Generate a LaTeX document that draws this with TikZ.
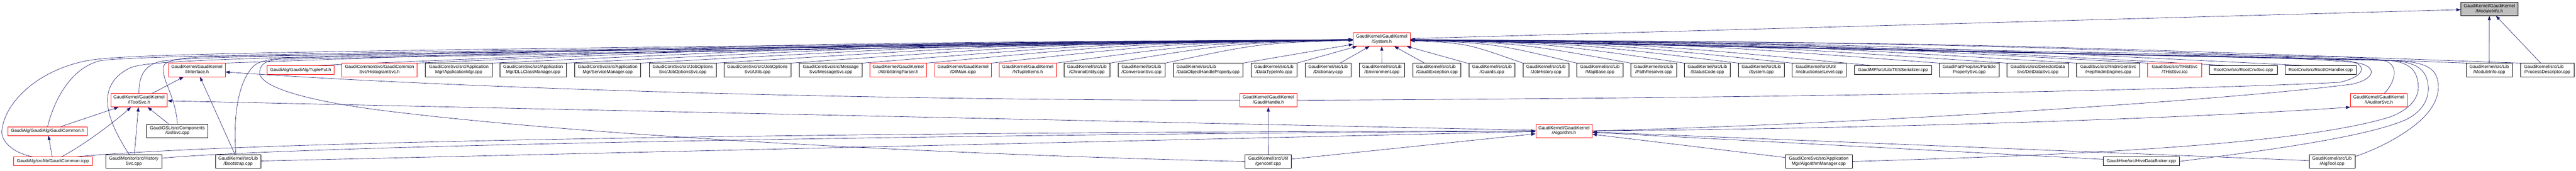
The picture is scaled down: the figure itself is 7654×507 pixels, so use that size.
\documentclass[tikz,border=0pt]{standalone}
\usepackage{fontspec}
\setmainfont{Liberation Sans}
\usetikzlibrary{arrows.meta,calc}
\definecolor{edgeblue}{HTML}{191970}
\definecolor{rootgray}{HTML}{BFBFBF}
\pgfdeclarelayer{bg}
\pgfsetlayers{bg,main}
\newcommand\gvfont{\fontsize{13.33}{15}\selectfont}
\newcommand\twol[2]{\begin{tabular}{@{}l@{}}#1\\\multicolumn{1}{@{}c@{}}{#2}\end{tabular}}
\begin{document}
\begin{tikzpicture}[x=1pt,y=-1pt,
  gbox/.style={draw=black,line width=1pt,fill=white,inner sep=0pt,font=\gvfont,minimum height=40pt,text=black},
  rbox/.style={gbox,draw=red},
  rootbox/.style={gbox,fill=rootgray},
  oneline/.style={minimum height=26pt},
  inc/.style={draw=edgeblue,line width=1pt,-{Triangle[length=13pt,width=9pt]}}]
\useasboundingbox (0,0) rectangle (7654,507);
% ---------- nodes ----------
\node[rootbox,minimum width=169pt] (modh) at (7396.5,26.5) {\twol{GaudiKernel/GaudiKernel}{/ModuleInfo.h}};
\node[rbox,minimum width=169pt] (sysh) at (4105.5,117) {\twol{GaudiKernel/GaudiKernel}{/System.h}};
% row 1
\node[rbox,minimum width=168pt] (iint) at (585,208) {\twol{GaudiKernel/GaudiKernel}{/IInterface.h}};
\node[rbox,oneline,minimum width=199pt] (tuple) at (893.5,208) {GaudiAlg/GaudiAlg/TuplePut.h};
\node[rbox,minimum width=223pt] (histo) at (1127.5,208) {\twol{GaudiCommonSvc/GaudiCommon}{Svc/HistogramSvc.h}};
\node[gbox,minimum width=198pt] (appmgr) at (1363,208) {\twol{GaudiCoreSvc/src/Application}{Mgr/ApplicationMgr.cpp}};
\node[gbox,minimum width=198pt] (dll) at (1584,208) {\twol{GaudiCoreSvc/src/Application}{Mgr/DLLClassManager.cpp}};
\node[gbox,minimum width=197pt] (svcmgr) at (1805.5,208) {\twol{GaudiCoreSvc/src/Application}{Mgr/ServiceManager.cpp}};
\node[gbox,minimum width=199pt] (jos) at (2028.5,208) {\twol{GaudiCoreSvc/src/JobOptions}{Svc/JobOptionsSvc.cpp}};
\node[gbox,minimum width=199pt] (utils) at (2250.5,208) {\twol{GaudiCoreSvc/src/JobOptions}{Svc/Utils.cpp}};
\node[gbox,minimum width=187pt] (msg) at (2468.5,208) {\twol{GaudiCoreSvc/src/Message}{Svc/MessageSvc.cpp}};
\node[rbox,minimum width=168pt] (attrib) at (2669,208) {\twol{GaudiKernel/GaudiKernel}{/AttribStringParser.h}};
\node[rbox,minimum width=169pt] (dllmain) at (2861.5,208) {\twol{GaudiKernel/GaudiKernel}{/DllMain.icpp}};
\node[rbox,minimum width=169pt] (ntuple) at (3053.5,208) {\twol{GaudiKernel/GaudiKernel}{/NTupleItems.h}};
\node[gbox,minimum width=137pt] (chrono) at (3229.5,208) {\twol{GaudiKernel/src/Lib}{/ChronoEntity.cpp}};
\node[gbox,minimum width=140pt] (conv) at (3392,208) {\twol{GaudiKernel/src/Lib}{/ConversionSvc.cpp}};
\node[gbox,minimum width=207pt] (dohp) at (3589.5,208) {\twol{GaudiKernel/src/Lib}{/DataObjectHandleProperty.cpp}};
\node[gbox,minimum width=136pt] (dti) at (3785,208) {\twol{GaudiKernel/src/Lib}{/DataTypeInfo.cpp}};
\node[gbox,minimum width=136pt] (dict) at (3946,208) {\twol{GaudiKernel/src/Lib}{/Dictionary.cpp}};
\node[gbox,minimum width=136pt] (env) at (4106,208) {\twol{GaudiKernel/src/Lib}{/Environment.cpp}};
\node[gbox,minimum width=143pt] (gexc) at (4269.5,208) {\twol{GaudiKernel/src/Lib}{/GaudiException.cpp}};
\node[gbox,minimum width=136pt] (guards) at (4433,208) {\twol{GaudiKernel/src/Lib}{/Guards.cpp}};
\node[gbox,minimum width=137pt] (jobh) at (4593.5,208) {\twol{GaudiKernel/src/Lib}{/JobHistory.cpp}};
\node[gbox,minimum width=137pt] (mapb) at (4753.5,208) {\twol{GaudiKernel/src/Lib}{/MapBase.cpp}};
\node[gbox,minimum width=136pt] (pathr) at (4913,208) {\twol{GaudiKernel/src/Lib}{/PathResolver.cpp}};
\node[gbox,minimum width=136pt] (stcode) at (5073,208) {\twol{GaudiKernel/src/Lib}{/StatusCode.cpp}};
\node[gbox,minimum width=137pt] (syscpp) at (5233.5,208) {\twol{GaudiKernel/src/Lib}{/System.cpp}};
\node[gbox,minimum width=161pt] (isl) at (5405.5,208) {\twol{GaudiKernel/src/Util}{/instructionsetLevel.cpp}};
\node[gbox,oneline,minimum width=229pt] (tes) at (5624.5,208) {GaudiMP/src/Lib/TESSerializer.cpp};
\node[gbox,minimum width=178pt] (ppsvc) at (5851,208) {\twol{GaudiPartProp/src/Particle}{PropertySvc.cpp}};
\node[gbox,minimum width=183pt] (detdata) at (6054.5,208) {\twol{GaudiSvc/src/DetectorData}{Svc/DetDataSvc.cpp}};
\node[gbox,minimum width=188pt] (heprndm) at (6264,208) {\twol{GaudiSvc/src/RndmGenSvc}{/HepRndmEngines.cpp}};
\node[rbox,minimum width=161pt] (thist) at (6461.5,208) {\twol{GaudiSvc/src/THistSvc}{/THistSvc.icc}};
\node[gbox,oneline,minimum width=201pt] (rootcnv) at (6665.5,208) {RootCnv/src/RootCnvSvc.cpp};
\node[gbox,oneline,minimum width=212pt] (rootio) at (6895,208) {RootCnv/src/RootIOHandler.cpp};
\node[gbox,minimum width=136pt] (modcpp) at (7396,208) {\twol{GaudiKernel/src/Lib}{/ModuleInfo.cpp}};
\node[gbox,minimum width=159pt] (procd) at (7568.5,208) {\twol{GaudiKernel/src/Lib}{/ProcessDescriptor.cpp}};
% row 2
\node[rbox,minimum width=168pt] (itool) at (413,298) {\twol{GaudiKernel/GaudiKernel}{/IToolSvc.h}};
\node[rbox,minimum width=169pt] (ghandle) at (3768.5,298) {\twol{GaudiKernel/GaudiKernel}{/GaudiHandle.h}};
\node[rbox,minimum width=168pt] (iaud) at (7068,298) {\twol{GaudiKernel/GaudiKernel}{/IAuditorSvc.h}};
% row 3
\node[rbox,oneline,minimum width=235pt] (gch) at (141.5,389.5) {GaudiAlg/GaudiAlg/GaudiCommon.h};
\node[gbox,minimum width=182pt] (gsl) at (527,389) {\twol{GaudiGSL/src/Components}{/GslSvc.cpp}};
\node[rbox,minimum width=168pt] (algh) at (4647,389) {\twol{GaudiKernel/GaudiKernel}{/Algorithm.h}};
% row 4
\node[rbox,oneline,minimum width=233pt] (gcicpp) at (157.5,479.5) {GaudiAlg/src/lib/GaudiCommon.icpp};
\node[gbox,minimum width=167pt] (hist) at (397.5,480) {\twol{GaudiMonitor/src/History}{Svc.cpp}};
\node[gbox,minimum width=135pt] (boot) at (707.5,480) {\twol{GaudiKernel/src/Lib}{/Bootstrap.cpp}};
\node[gbox,minimum width=138pt] (genconf) at (3768,480) {\twol{GaudiKernel/src/Util}{/genconf.cpp}};
\node[gbox,minimum width=198pt] (algmgr) at (5404,480) {\twol{GaudiCoreSvc/src/Application}{Mgr/AlgorithmManager.cpp}};
\node[gbox,oneline,minimum width=227pt] (hive) at (6362.5,479.5) {GaudiHive/src/HiveDataBroker.cpp};
\node[gbox,minimum width=136pt] (algtool) at (6929,480) {\twol{GaudiKernel/src/Lib}{/AlgTool.cpp}};
% ---------- edges ----------
\begin{pgfonlayer}{bg}
\fill[white] (0,0) rectangle (7654,507);
% into ModuleInfo.h
\draw[inc] (sysh) -- (modh);
\draw[inc] (modcpp) -- (modh);
\draw[inc] (procd) -- (modh);
% row 1, left of System.h
\draw[inc] (iint.north east) .. controls (2345,128.5) .. (sysh);
\draw[inc] ($(tuple.north east)+(-47,0)$) .. controls (2483,129.5) .. (sysh);
\draw[inc] (histo.north east) .. controls (2630,128.5) .. (sysh);
\draw[inc] (appmgr.north east) .. controls (2741.5,128.5) .. (sysh);
\draw[inc] (dll.north east) .. controls (2852,128.5) .. (sysh);
\draw[inc] (svcmgr.north east) .. controls (2962.5,128.5) .. (sysh);
\draw[inc] (jos.north east) .. controls (3074.5,128.5) .. (sysh);
\draw[inc] (utils.north east) .. controls (3185.5,128.5) .. (sysh);
\draw[inc] (msg.north east) .. controls (3291.5,128.5) .. (sysh);
\draw[inc] (attrib.north east) .. controls (3387,128.5) .. (sysh);
\draw[inc] (dllmain.north east) .. controls (3483.5,128.5) .. (sysh);
\draw[inc] (ntuple.north east) .. controls (3579.5,128.5) .. (sysh);
\draw[inc] (chrono.north east) .. controls (3659.5,128.5) .. (sysh);
\draw[inc] (conv.north east) .. controls (3741.5,128.5) .. (sysh);
\draw[inc] (dohp.north east) -- (sysh);
\draw[inc] (dti.north east) -- (sysh);
\draw[inc] (dict) -- (sysh);
\draw[inc] (env) -- (sysh);
\draw[inc] (gexc) -- (sysh);
\draw[inc] (guards) -- (sysh);
% row 1, right of System.h
\draw[inc] (jobh.north west) .. controls (4357.5,128.5) .. (sysh);
\draw[inc] (mapb.north west) .. controls (4437.5,128.5) .. (sysh);
\draw[inc] (pathr.north west) .. controls (4517.5,128.5) .. (sysh);
\draw[inc] (stcode.north west) .. controls (4597.5,128.5) .. (sysh);
\draw[inc] (syscpp.north west) .. controls (4677.5,128.5) .. (sysh);
\draw[inc] (isl.north west) .. controls (4757.5,128.5) .. (sysh);
\draw[inc] ($(tes.north west)+(49,0)$) .. controls (4874.5,129.5) .. (sysh);
\draw[inc] (ppsvc.north west) .. controls (4976,128.5) .. (sysh);
\draw[inc] (detdata.north west) .. controls (5076.5,128.5) .. (sysh);
\draw[inc] (heprndm.north west) .. controls (5180,128.5) .. (sysh);
\draw[inc] (thist.north west) .. controls (5285.5,128.5) .. (sysh);
\draw[inc] ($(rootcnv.north west)+(45,0)$) .. controls (5400,129.5) .. (sysh);
\draw[inc] ($(rootio.north west)+(50,0)$) .. controls (5514.5,129.5) .. (sysh);
\draw[inc] (modcpp.north west) .. controls (5759,128.5) .. (sysh);
\draw[inc] (procd.north west) .. controls (5839.5,128.5) .. (sysh);
% lower-left nodes to System.h
\draw[inc] ($(gcicpp.north west)+(57,0)$) .. controls (40,455) and (0,420) .. (6,385) .. controls (15,310) and (100,215) .. (250,182) .. controls (350,162) and (600,152) .. (sysh);
\draw[inc] (gch.north) .. controls (160,300) and (210,200) .. (300,180) .. controls (400,168) and (700,158) .. (sysh);
\draw[inc] ($(hist.north)+(-13.5,0)$) .. controls (320,360) and (280,260) .. (380,205) .. controls (430,178) and (550,165) .. (sysh);
\draw[inc] (itool.north) .. controls (412,225) and (430,192) .. (480,182) .. controls (550,170) and (700,162) .. (sysh);
\draw[inc] (gsl.north) .. controls (522,285) and (478,235) .. (486,197) .. controls (492,175) and (560,172) .. (620,168) -- (sysh);
\draw[inc] ($(boot.north)+(-6.5,0)$) .. controls (693,360) and (703,245) .. (755,195) .. controls (770,182) and (800,176) .. (850,172) -- (sysh);
\draw[inc] (genconf.west) .. controls (2900,462) and (1800,410) .. (1150,330) .. controls (900,299) and (760,255) .. (772,210) .. controls (775,190) and (790,180) .. (830,176) -- (sysh);
% lower-right nodes looping round to System.h
\draw[inc] (ghandle.east) .. controls (5000,293) and (6300,275) .. (6950,245) .. controls (7030,228) and (7035,190) .. (6980,182) .. controls (6900,172) and (6700,166) .. (6400,163) -- (sysh);
\draw[inc] (algh.east) .. controls (5500,370) and (6600,300) .. (6990,250) .. controls (7065,232) and (7060,195) .. (7000,186) .. controls (6900,176) and (6700,169) .. (6500,166) -- (sysh);
\draw[inc] ($(iaud.north west)+(101,0)$) .. controls (7120,240) and (7125,195) .. (7090,182) .. controls (7060,174) and (7000,170) .. (6900,168) -- (sysh);
\draw[inc] (algmgr.east) .. controls (6000,465) and (6800,440) .. (7100,348) .. controls (7160,326) and (7190,290) .. (7185,250) .. controls (7180,200) and (7150,182) .. (7080,178) -- (sysh);
\draw[inc] (hive.east) .. controls (6800,440) and (7050,400) .. (7150,355) .. controls (7200,330) and (7220,290) .. (7214,250) .. controls (7208,200) and (7170,182) .. (7090,179) -- (sysh);
\draw[inc] ($(algtool.east)+(0,-15)$) .. controls (7060,445) and (7150,400) .. (7200,350) .. controls (7240,310) and (7250,270) .. (7243,240) .. controls (7235,195) and (7190,182) .. (7100,180) -- (sysh);
% into IInterface.h
\draw[inc] (itool) -- (iint);
\draw[inc] (boot) -- (iint);
\draw[inc] (ghandle) .. controls (2600,298) and (1400,265) .. (iint);
% into IToolSvc.h
\draw[inc] (gch) -- (itool);
\draw[inc] (gcicpp) .. controls (250,430) and (330,370) .. (itool);
\draw[inc] (hist) -- (itool);
\draw[inc] (gsl) -- (itool);
\draw[inc] (algh) -- (itool);
% into GaudiCommon.h
\draw[inc] (gcicpp) -- (gch);
% into GaudiHandle.h
\draw[inc] (genconf) -- (ghandle);
% into Algorithm.h
\draw[inc] ($(gcicpp.north east)+(-48,0)$) .. controls (700,420) and (2500,392) .. (algh);
\draw[inc] ($(hist.east)+(0,-10)$) .. controls (900,432) and (2800,400) .. (algh);
\draw[inc] (boot) -- (algh);
\draw[inc] (genconf) -- (algh);
\draw[inc] (algtool) -- (algh);
\draw[inc] (hive) -- (algh);
\draw[inc] (algmgr) -- (algh);
% into IAuditorSvc.h
\draw[inc] (algh.east) .. controls (5600,382) and (6500,352) .. (iaud.south west);
\end{pgfonlayer}
\end{tikzpicture}
\end{document}
